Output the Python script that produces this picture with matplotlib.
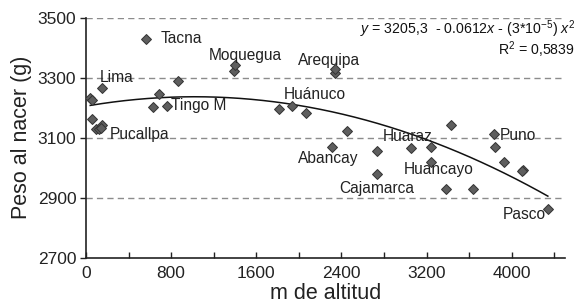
import numpy as np
import matplotlib
matplotlib.use("Agg")
import matplotlib.pyplot as plt
from matplotlib.ticker import MultipleLocator

plt.rcParams['font.family'] = ['Liberation Sans', 'DejaVu Sans']
plt.rcParams['mathtext.fontset'] = 'custom'
plt.rcParams['mathtext.rm'] = 'Liberation Sans'
plt.rcParams['mathtext.it'] = 'Liberation Sans:italic'

# Data: altitude (m) and birth weight (g)
altitude = [40, 60, 153, 55, 95, 120, 155, 140, 560, 632, 688, 757, 861,
            1393, 1405, 1815, 1940, 2066, 2316, 2338, 2338, 2448, 2739, 2739,
            3052, 3246, 3246, 3387, 3427, 3637, 3834, 3847, 3925, 4106, 4100,
            4340]
weight = [3232, 3226, 3264, 3163, 3130, 3128, 3143, 3133, 3430, 3201, 3245,
          3205, 3288, 3321, 3341, 3197, 3206, 3183, 3069, 3317, 3330, 3124,
          3055, 2980, 3065, 3069, 3021, 2930, 3144, 2930, 3113, 3069, 3019,
          2994, 2989, 2863]

# City labels (text anchor positions)
city_names = ["Tacna", "Moquegua", "Lima", "Tingo M", "Pucallpa", "Arequipa",
              "Huánuco", "Abancay", "Huaraz", "Huancayo", "Cajamarca", "Puno",
              "Pasco"]
city_x = [704, 1155, 131, 795, 225, 1991, 1859, 1994, 2793, 2986, 2379, 3887, 3913]
city_y = [3430, 3375, 3301, 3207, 3111, 3358, 3244, 3030, 3104, 2994, 2930, 3108, 2844]

# Quadratic trend coefficients
c0, c1, c2 = 3205.3, 0.0612, -3e-5

yticks = [2700, 2900, 3100, 3300, 3500]
xticks = [0, 800, 1600, 2400, 3200, 4000]

fig = plt.figure(figsize=(5.77, 3.08), dpi=100)
ax = fig.add_axes([0.149, 0.1623, 0.830, 0.7807])

for g in yticks[1:]:
    ax.axhline(g, color='#8c8c8c', lw=1.0, ls=(0, (4.5, 3)), zorder=1)

xs = np.linspace(min(altitude), max(altitude), 200)
ax.plot(xs, c0 + c1 * xs + c2 * xs ** 2, color='#111111', lw=1.1, zorder=2)

ax.plot(altitude, weight, ls='none', marker='D', ms=5.0, mfc='#5e5e5e',
        mec='#333333', mew=0.7, zorder=3)

for n, x, y in zip(city_names, city_x, city_y):
    ax.text(x, y, n, fontsize=11.2, color='#222222', ha='left', va='center',
            zorder=4)

ax.set_xlim(0, 4500)
ax.set_ylim(2700, 3500)
ax.set_xticks(xticks)
ax.xaxis.set_minor_locator(MultipleLocator(400))
ax.set_yticks(yticks)
ax.tick_params(axis='x', which='both', direction='in', length=4, width=1,
               labelsize=12.5, colors='#222222', pad=6)
ax.tick_params(axis='y', direction='out', length=4, width=1, labelsize=12.5,
               colors='#222222', pad=3)
for s in ['top', 'right']:
    ax.spines[s].set_visible(False)
for s in ['left', 'bottom']:
    ax.spines[s].set_color('#222222')
    ax.spines[s].set_linewidth(1.2)

ax.set_xlabel('m de altitud', fontsize=15.5, color='#222222', labelpad=1)
ax.set_ylabel('Peso al nacer (g)', fontsize=15.5, color='#222222', labelpad=4)

fig.text(0.997, 0.906, r'$y$ = 3205,3  - 0.0612$x$ - (3*10$^{-5}$) $x^{2}$',
         fontsize=10.2, ha='right', va='center', color='#111111')
fig.text(0.997, 0.838, r'R$^{2}$ = 0,5839', fontsize=10.2, ha='right',
         va='center', color='#111111')

fig.savefig('out.png', dpi=100)
